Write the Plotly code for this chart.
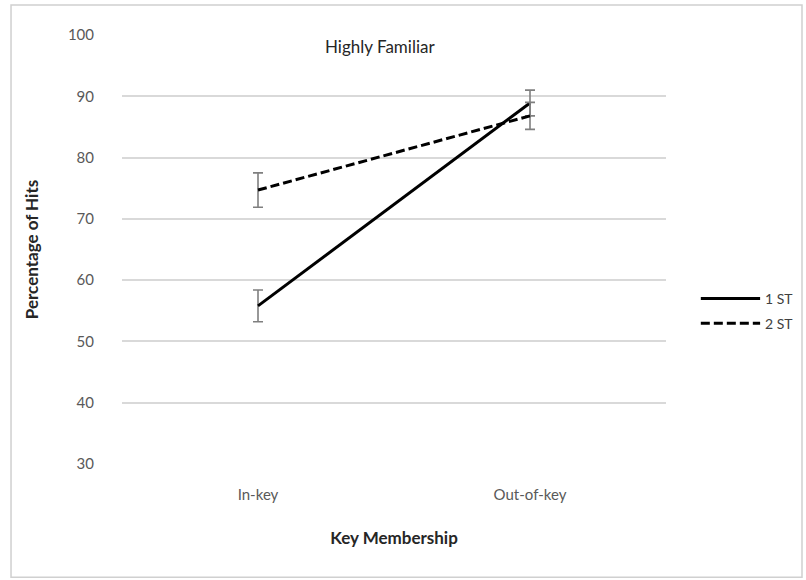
import plotly.graph_objects as go

categories = ["In-key", "Out-of-key"]
st1_values = [55.8, 88.9]
st1_errors = [2.6, 2.1]
st2_values = [74.7, 86.8]
st2_errors = [2.8, 2.2]
series_names = ["1 ST", "2 ST"]
y_ticks = [30, 40, 50, 60, 70, 80, 90, 100]

FONT = "Lato, 'Open Sans', sans-serif"
dashes = ["solid", "9px,4px"]

fig = go.Figure()
for name, vals, errs, dash in zip(series_names, [st1_values, st2_values],
                                  [st1_errors, st2_errors], dashes):
    fig.add_trace(go.Scatter(
        x=categories, y=vals, name=name, mode="lines",
        line=dict(color="black", width=3, dash=dash),
        error_y=dict(type="data", array=errs, visible=True,
                     color="#7f7f7f", thickness=1.6, width=5),
        showlegend=False,
    ))

# Legend drawn to the right of the plot area: long line samples with labels
legend_shapes = []
legend_notes = []
for i, (name, dash) in enumerate(zip(series_names, dashes)):
    ly = 0.386 - i * 0.058
    legend_shapes.append(dict(type="line", xref="paper", yref="paper",
                              x0=1.064, x1=1.173, y0=ly, y1=ly,
                              line=dict(color="black", width=3, dash=dash)))
    legend_notes.append(dict(text=name, xref="paper", yref="paper",
                             x=1.178, y=ly, xanchor="left", yanchor="middle",
                             showarrow=False,
                             font=dict(size=14, color="#404040")))

fig.update_layout(
    width=806, height=580,
    margin=dict(l=122, r=140, t=35, b=116),
    paper_bgcolor="white", plot_bgcolor="white",
    font=dict(family=FONT, size=14, color="#595959"),
    xaxis=dict(range=[-0.5, 1.5], showgrid=False, showline=False,
               zeroline=False, ticks="", ticklabelstandoff=20,
               tickfont=dict(size=15, color="#595959"),
               title=dict(text="<b>Key Membership</b>", standoff=30,
                          font=dict(size=17, color="#262626"))),
    yaxis=dict(range=[30, 100], tickvals=y_ticks, showgrid=True,
               gridcolor="#d9d9d9", gridwidth=1.5, zeroline=False,
               showline=False, ticks="", ticklabelstandoff=27,
               tickfont=dict(size=15, color="#595959"),
               title=dict(text="<b>Percentage of Hits</b>", standoff=24,
                          font=dict(size=17, color="#262626"))),
    annotations=[dict(text="Highly Familiar", xref="paper", yref="paper",
                      x=0.475, y=0.974, yanchor="middle", showarrow=False,
                      font=dict(size=17, color="#262626"))] + legend_notes,
    shapes=[dict(type="rect", xref="paper", yref="paper",
                 x0=-0.204, x1=1.25, y0=-0.264, y1=1.07,
                 line=dict(color="#d0d0d0", width=1.5), layer="below")]
           + legend_shapes,
)

fig.write_html("out.html")
